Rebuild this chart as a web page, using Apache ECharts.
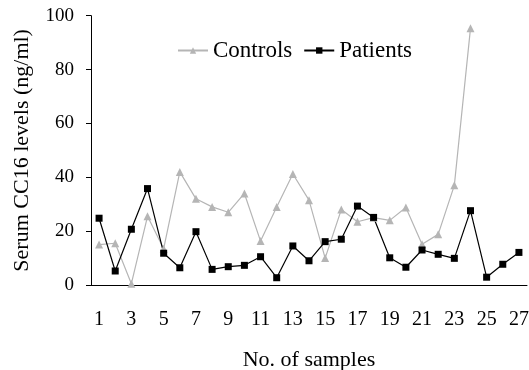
<!DOCTYPE html>
<html>
<head>
<meta charset="utf-8">
<script src="https://cdn.jsdelivr.net/npm/echarts@6/dist/echarts.min.js"></script>
<style>html,body{margin:0;padding:0;background:#fff}#c{width:529px;height:370px}</style>
</head>
<body>
<div id="c"></div>
<script>
const categories = ['1','2','3','4','5','6','7','8','9','10','11','12','13','14','15','16','17','18','19','20','21','22','23','24','25','26','27'];
const controls = [15, 15.5, 0.5, 25.5, 13.5, 42, 32, 29, 27, 34, 16.3, 29, 41.2, 31.5, 10, 28, 23.5, 25, 24, 28.8, 15.1, 18.8, 37, 95.3];
const patients = [24.8, 5.2, 20.7, 35.8, 11.8, 6.4, 19.8, 5.8, 6.8, 7.3, 10.5, 2.7, 14.5, 9.0, 16.1, 17.0, 29.3, 25.1, 10.1, 6.6, 13.0, 11.4, 9.9, 27.6, 2.9, 7.7, 12.1];
const yTicks = {min: 0, max: 100, interval: 20};
const FONT = '"Liberation Serif", "Times New Roman", serif';
const legendText = {fontFamily: FONT, fontSize: 23, color: '#000'};

const chart = echarts.init(document.getElementById('c'));
chart.setOption({
  animation: false,
  textStyle: {fontFamily: FONT, color: '#000'},
  grid: {left: 91, right: 2, top: 15.7, bottom: 85, containLabel: false, outerBoundsMode: 'none'},
  legend: {
    left: 177, top: 39, padding: 0, itemWidth: 30, itemHeight: 8, itemGap: 11,
    textStyle: legendText,
    data: [
      {name: 'Controls', textStyle: legendText},
      {name: 'Patients', textStyle: legendText}
    ]
  },
  xAxis: {
    type: 'category', data: categories, boundaryGap: true,
    name: 'No. of samples', nameLocation: 'middle', nameGap: 64,
    nameTextStyle: {fontFamily: FONT, fontSize: 22, color: '#000'},
    axisLine: {lineStyle: {color: '#000', width: 1}},
    axisTick: {inside: true, length: 5, lineStyle: {color: '#000'}},
    axisLabel: {interval: 1, margin: 25, fontFamily: FONT, fontSize: 20, color: '#000'},
    splitLine: {show: false}
  },
  yAxis: {
    type: 'value', min: yTicks.min, max: yTicks.max, interval: yTicks.interval,
    name: 'Serum CC16 levels (ng/ml)', nameLocation: 'middle', nameGap: 58,
    nameTextStyle: {fontFamily: FONT, fontSize: 22, color: '#000'},
    axisLine: {show: true, lineStyle: {color: '#000', width: 1}},
    axisTick: {show: true, length: 5, lineStyle: {color: '#000'}},
    axisLabel: {margin: 17, fontFamily: FONT, fontSize: 19, color: '#000'},
    splitLine: {show: false}
  },
  series: [
    {
      name: 'Controls', type: 'line', data: controls,
      symbol: 'triangle', symbolSize: 8,
      itemStyle: {color: '#b5b5b5'},
      lineStyle: {color: '#b5b5b5', width: 1.2}
    },
    {
      name: 'Patients', type: 'line', data: patients,
      symbol: 'rect', symbolSize: 7,
      itemStyle: {color: '#000'},
      lineStyle: {color: '#000', width: 1.2},
      z: 3
    }
  ]
});
</script>
</body>
</html>
